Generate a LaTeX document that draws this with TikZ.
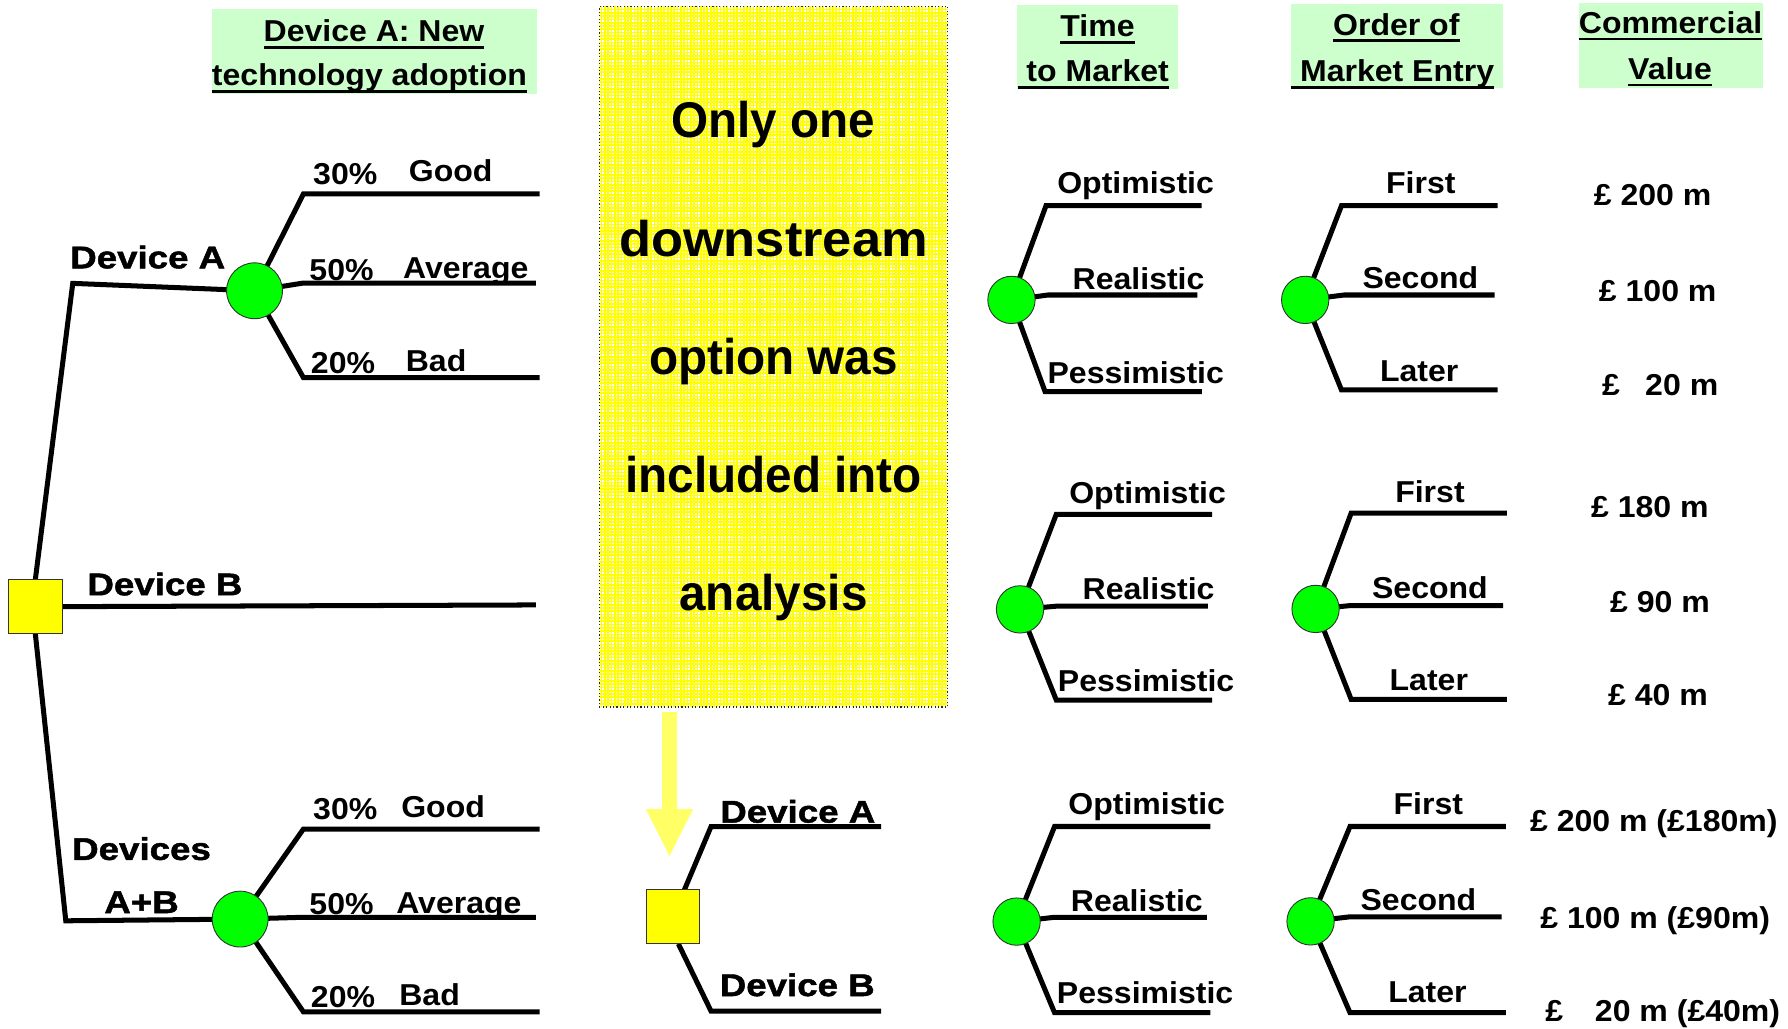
\documentclass[tikz,border=0pt]{standalone}
\usepackage{graphicx}
\usepackage{fontspec}
\setmainfont{Liberation Sans}[FakeStretch=1.06]
\newfontfamily\devfont{Liberation Sans}[FakeStretch=1.17, FakeBold=1.5]
\newfontfamily\notefont{Liberation Sans}[FakeStretch=0.95]
\usetikzlibrary{arrows.meta}
\definecolor{chancegreen}{HTML}{00FF00}
\definecolor{headgreen}{HTML}{CCFFCC}
\definecolor{boxyellow}{HTML}{FFFF00}
\definecolor{arrowyellow}{HTML}{FFFF66}
\pgfdeclarelayer{background}
\pgfsetlayers{background,main}
\tikzset{branch/.style = {line width=4.4pt}}
\newsavebox{\hdbox}
\newcommand{\hdrule}[1]{\sbox{\hdbox}{#1}\rlap{\rule[-6.2pt]{\wd\hdbox}{2.4pt}}\usebox{\hdbox}}

\begin{document}
\begin{tikzpicture}[x=1pt, y=-1pt,
    chance/.style={circle, draw=black!80, line width=0.8pt, fill=chancegreen, inner sep=0pt},
    decision/.style={rectangle, draw=black!80, line width=0.8pt, fill=boxyellow, inner sep=0pt, minimum size=47pt},
    lbl/.style={anchor=base west, inner sep=0pt, font=\bfseries\fontsize{26.5}{30}\selectfont},
    clbl/.style={lbl, anchor=base},
    dlbl/.style={lbl, font=\devfont\bfseries\fontsize{27.5}{32}\selectfont},
    hdr/.style={rectangle, fill=headgreen, inner sep=0pt},
    notebox/.style={rectangle, draw=black!85, dotted, line width=1pt, fill=white, inner sep=0pt,
        path picture={\draw[boxyellow, line width=1.5pt, step=2.9pt, solid]
            (path picture bounding box.south west) grid (path picture bounding box.north east);}},
    notetext/.style={anchor=base, inner sep=0pt, font=\notefont\bfseries\fontsize{44}{48}\selectfont},
    hint/.style={arrowyellow, line width=13.2pt, -{Triangle[width=41.5pt, length=41.2pt, line width=0pt]}}]
\useasboundingbox (0,0) rectangle (1568,902);

% headers
\node[hdr, minimum width=285pt, minimum height=74pt] (h1) at (328.5,45) {};
\node[clbl] (h1a) at (328,36.5) {\hdrule{Device A: New}};
\node[clbl] (h1b) at (324,75) {\hdrule{technology adoption}};
\node[hdr, minimum width=141pt, minimum height=73.6pt] (h2) at (962.5,41.2) {};
\node[clbl] (h2a) at (962.5,32) {\hdrule{Time}};
\node[clbl] (h2b) at (958.7,71.6) {\hdrule{\ to Market}};
\node[hdr, minimum width=186pt, minimum height=74pt] (h3) at (1225,40.5) {};
\node[clbl] (h3a) at (1224.5,30.7) {\hdrule{Order of}};
\node[clbl] (h3b) at (1221.3,71.6) {\hdrule{\ Market Entry}};
\node[hdr, minimum width=161pt, minimum height=74pt] (h4) at (1465.2,40) {};
\node[clbl] (h4a) at (1465,29.2) {\hdrule{Commercial}};
\node[clbl] (h4b) at (1464.5,69.6) {\hdrule{Value}};

% note box and arrow
\node[notebox, minimum width=305.4pt, minimum height=614.4pt] (note) at (678.3,312.8) {};
\foreach \txt/\sx [count=\i] in {Only one/1, downstream/1.1, option was/1, included into/1, analysis/1}
    \node[notetext] (note\i) at (678.3,17.2+103.7*\i) {\scalebox{\sx}[1]{\txt}};
\coordinate (aTop) at (587.1,624);
\coordinate (aTip) at (587.1,750.7);
\draw[hint] (aTop) -- (aTip);

% left tree
\node[decision] (d0) at (31,532) {};
\node[chance, minimum size=49pt] (ca) at (223.2,255) {};
\node[chance, minimum size=49pt] (cab) at (210.6,806) {};
\coordinate (kA) at (63.8,248.5);
\coordinate (kAB) at (57.7,807.5);
\coordinate (eB) at (469.9,530.5);
\coordinate (ca1) at (473.2,170.1);
\coordinate (ca2) at (469.9,248.2);
\coordinate (ca3) at (473.2,331.2);
\coordinate (cab1) at (473.2,727);
\coordinate (cab2) at (469.9,804.4);
\coordinate (cab3) at (473.2,887.4);
\node[dlbl] (lA) at (61.4,235.3) {Device A};
\node[dlbl] (lB) at (76.5,522) {Device B};
\node[dlbl] (lAB1) at (63.1,754.1) {Devices};
\node[dlbl] (lAB2) at (91.3,800.7) {A+B};
\node[lbl] (pa1) at (274.5,162.2) {30\%};
\node[lbl] (sa1) at (358.4,159.3) {Good};
\node[lbl] (pa2) at (271.2,245.6) {50\%};
\node[lbl] (sa2) at (353.4,244) {Average};
\node[lbl] (pa3) at (272.5,327.4) {20\%};
\node[lbl] (sa3) at (355.7,326) {Bad};
\node[lbl] (pb1) at (274.5,718.4) {30\%};
\node[lbl] (sb1) at (351.7,717) {Good};
\node[lbl] (pb2) at (271.2,801.7) {50\%};
\node[lbl] (sb2) at (347.3,800.7) {Average};
\node[lbl] (pb3) at (272.5,883.3) {20\%};
\node[lbl] (sb3) at (350,882.2) {Bad};

% downstream option
\node[decision] (d1) at (590.3,803.8) {};
\coordinate (dA) at (772.6,725);
\coordinate (dB) at (772.6,886.6);
\node[dlbl] (mA) at (631.5,721.4) {Device A};
\node[dlbl] (mB) at (631,873.5) {Device B};

% time to market
\node[chance, minimum size=41.5pt] (t1) at (887,263) {};
\node[chance, minimum size=41.5pt] (t2) at (894.5,534.4) {};
\node[chance, minimum size=41.5pt] (t3) at (891.5,808.2) {};
\coordinate (t1a) at (1053.8,180.4);
\coordinate (t1b) at (1050,258.7);
\coordinate (t1c) at (1054,343.5);
\coordinate (t2a) at (1062.9,451);
\coordinate (t2b) at (1059.2,531.6);
\coordinate (t2c) at (1062.9,613.9);
\coordinate (t3a) at (1061.5,724.8);
\coordinate (t3b) at (1058.3,804.4);
\coordinate (t3c) at (1061.5,888.1);
\node[lbl] (ta1) at (927,169.6) {Optimistic};
\node[lbl] (tb1) at (940.5,254.3) {Realistic};
\node[lbl] (tc1) at (918.5,336.2) {Pessimistic};
\node[lbl] (ta2) at (937.5,441.5) {Optimistic};
\node[lbl] (tb2) at (949.3,525.5) {Realistic};
\node[lbl] (tc2) at (927.6,606.4) {Pessimistic};
\node[lbl] (ta3) at (936.7,714.6) {Optimistic};
\node[lbl] (tb3) at (939,799.7) {Realistic};
\node[lbl] (tc3) at (926.7,880.3) {Pessimistic};

% order of market entry
\node[chance, minimum size=41.5pt] (o1) at (1144.6,263) {};
\node[chance, minimum size=41.5pt] (o2) at (1153.7,534) {};
\node[chance, minimum size=41.5pt] (o3) at (1149.3,808) {};
\coordinate (o1a) at (1313.4,180.4);
\coordinate (o1b) at (1310.7,258.7);
\coordinate (o1c) at (1313.4,342);
\coordinate (o2a) at (1321.4,450);
\coordinate (o2b) at (1318.2,531);
\coordinate (o2c) at (1321.4,613.3);
\coordinate (o3a) at (1320.5,724.8);
\coordinate (o3b) at (1316.9,804);
\coordinate (o3c) at (1320.5,888.1);
\node[clbl] (oa1) at (1246,169.6) {First};
\node[clbl] (ob1) at (1245.6,252.9) {Second};
\node[clbl] (oc1) at (1244.6,334.7) {Later};
\node[clbl] (oa2) at (1254,441) {First};
\node[clbl] (ob2) at (1254,524.8) {Second};
\node[clbl] (oc2) at (1253,605.5) {Later};
\node[clbl] (oa3) at (1252.6,714.6) {First};
\node[clbl] (ob3) at (1243.9,798.8) {Second};
\node[clbl] (oc3) at (1251.8,879.5) {Later};

% commercial value
\node[lbl] (va1) at (1397.6,179.8) {£ 200 m};
\node[lbl] (vb1) at (1402,264.6) {£ 100 m};
\node[lbl] (vc1) at (1404.7,346.4) {£\hspace{22.3pt}20 m};
\node[lbl] (va2) at (1395.1,453.4) {£ 180 m};
\node[lbl] (vb2) at (1411.9,537.4) {£ 90 m};
\node[lbl] (vc2) at (1410,619) {£ 40 m};
\node[lbl] (va3) at (1341.6,728.9) {£ 200 m (£180m)};
\node[lbl] (vb3) at (1350.6,813.9) {£ 100 m (£90m)};
\node[lbl] (vc3) at (1355.1,895.6) {£\hspace{27.8pt}20 m (£40m)};

\begin{pgfonlayer}{background}
\draw[branch] (d0.north) -- (kA) -- (ca.center);
\draw[branch] (d0.east) -- (eB);
\draw[branch] (d0.south) -- (kAB) -- (cab.center);
\draw[branch] (ca.center) -- (266.1,170.1) -- (ca1);
\draw[branch] (ca.center) -- (266.1,248.2) -- (ca2);
\draw[branch] (ca.center) -- (266.1,331.2) -- (ca3);
\draw[branch] (cab.center) -- (266.1,727) -- (cab1);
\draw[branch] (cab.center) -- (266.1,804.4) -- (cab2);
\draw[branch] (cab.center) -- (266.1,887.4) -- (cab3);
\draw[branch] (d1.center) -- (623.5,725) -- (dA);
\draw[branch] ([xshift=4.6pt]d1.south) -- (623.5,886.6) -- (dB);
\draw[branch] (t1.center) -- (917.3,180.4) -- (t1a);
\draw[branch] (t1.center) -- (919,258.7) -- (t1b);
\draw[branch] (t1.center) -- (916.5,343.5) -- (t1c);
\draw[branch] (t2.center) -- (926.3,451) -- (t2a);
\draw[branch] (t2.center) -- (926.3,531.6) -- (t2b);
\draw[branch] (t2.center) -- (926.3,613.9) -- (t2c);
\draw[branch] (t3.center) -- (924.8,724.8) -- (t3a);
\draw[branch] (t3.center) -- (924.8,804.4) -- (t3b);
\draw[branch] (t3.center) -- (924.8,888.1) -- (t3c);
\draw[branch] (o1.center) -- (1176.4,180.4) -- (o1a);
\draw[branch] (o1.center) -- (1178.7,258.7) -- (o1b);
\draw[branch] (o1.center) -- (1176.4,342) -- (o1c);
\draw[branch] (o2.center) -- (1184.9,450) -- (o2a);
\draw[branch] (o2.center) -- (1184.9,531) -- (o2b);
\draw[branch] (o2.center) -- (1184.9,613.3) -- (o2c);
\draw[branch] (o3.center) -- (1183.9,724.8) -- (o3a);
\draw[branch] (o3.center) -- (1183.9,804) -- (o3b);
\draw[branch] (o3.center) -- (1183.9,888.1) -- (o3c);
\end{pgfonlayer}
\end{tikzpicture}
\end{document}
